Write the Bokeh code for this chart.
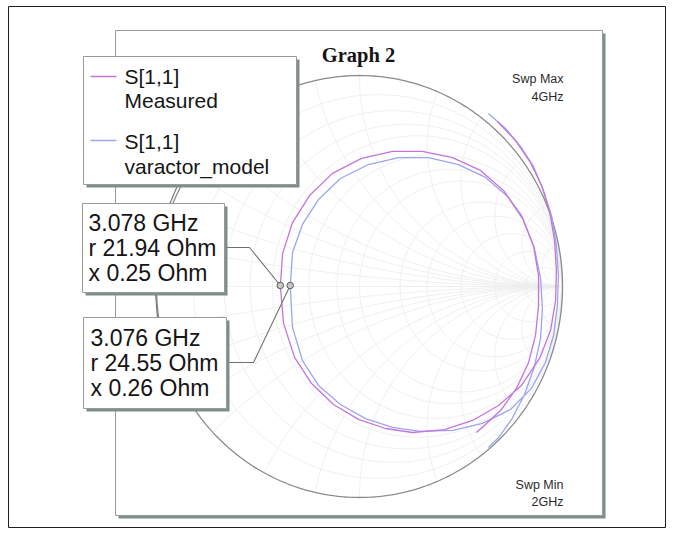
import numpy as np
from bokeh.plotting import figure
from bokeh.models import Range1d, Label
from bokeh.embed import file_html
from bokeh.resources import INLINE

# ---------------- data (reflection coefficient) ----------------
meas_re = [0.680, 0.768, 0.842, 0.897, 0.936, 0.961, 0.970, 0.966, 0.941, 0.887, 0.798,
           0.685, 0.557, 0.419, 0.261, 0.128, -0.005, -0.128, -0.236, -0.320, -0.374,
           -0.390, -0.379, -0.330, -0.246, -0.133, 0.010, 0.163, 0.310, 0.458, 0.596,
           0.709, 0.798, 0.857, 0.882, 0.882, 0.867, 0.833, 0.773, 0.695, 0.626, 0.576]
meas_im = [0.782, 0.692, 0.588, 0.479, 0.360, 0.218, 0.076, -0.066, -0.209, -0.341, -0.469,
           -0.564, -0.635, -0.678, -0.692, -0.673, -0.630, -0.559, -0.460, -0.336, -0.175,
           0.000, 0.156, 0.303, 0.431, 0.536, 0.607, 0.640, 0.640, 0.611, 0.550,
           0.455, 0.336, 0.194, 0.052, -0.090, -0.232, -0.360, -0.483, -0.588, -0.649, -0.692]

model_re = [0.635, 0.719, 0.793, 0.857, 0.906, 0.946, 0.970, 0.980, 0.975, 0.956, 0.916,
            0.847, 0.744, 0.606, 0.458, 0.300, 0.163, 0.030, -0.094, -0.202, -0.281,
            -0.330, -0.341, -0.330, -0.281, -0.202, -0.094, 0.044, 0.192, 0.340, 0.488,
            0.621, 0.729, 0.808, 0.862, 0.892, 0.901, 0.892, 0.862, 0.813, 0.749, 0.685, 0.635]
model_im = [0.820, 0.749, 0.664, 0.569, 0.455, 0.336, 0.194, 0.052, -0.090, -0.232, -0.360,
            -0.483, -0.583, -0.649, -0.682, -0.687, -0.668, -0.626, -0.559, -0.469, -0.351,
            -0.194, 0.000, 0.161, 0.294, 0.412, 0.512, 0.578, 0.611, 0.611, 0.578,
            0.517, 0.427, 0.313, 0.180, 0.038, -0.104, -0.246, -0.379, -0.512, -0.630, -0.716, -0.763]

series_names = ["Measured", "varactor_model"]
trace_label = "S[1,1]"
marker_freq = ["3.078 GHz", "3.076 GHz"]
marker_r = [21.94, 24.55]
marker_x = [0.25, 0.26]
z0 = 50.0
r_grid = [0.1, 0.2, 0.3, 0.4, 0.6, 0.8, 1.0, 1.5, 2.0, 3.0, 5.0, 10.0]
x_grid = [0.1, 0.2, 0.3, 0.4, 0.6, 0.8, 1.0, 1.5, 2.0, 3.0, 5.0, 10.0]
sweep_max = "4GHz"
sweep_min = "2GHz"
title = "Graph 2"

# ---------------- layout (page pixels -> chart units) ----------------
W, H = 670, 534
CX, CY, RX, RY = 359.0, 286.0, 203.0, 211.0


def X(px):
    return (px - CX) / RX


def Y(py):
    return (CY - py) / RY


MEAS_C = "#c474dc"
MODEL_C = "#9ca6ee"
GRID_C = "#ededed"
BOX_LINE = "#9a9a9a"
SHADOW = "#7f8e87"
TXT = "#151515"
FONT = "Liberation Sans"

p = figure(width=W, height=H, x_range=Range1d(X(0), X(W)), y_range=Range1d(Y(H), Y(0)),
           output_backend="svg", toolbar_location=None, min_border=0)
p.axis.visible = False
p.xgrid.visible = False
p.ygrid.visible = False
p.outline_line_color = None
p.background_fill_color = "white"
p.border_fill_color = "white"

# outer frame of the picture
p.quad(left=[X(8)], right=[X(665)], top=[Y(6)], bottom=[Y(527)], fill_color=None,
       line_color="#202020", line_width=1)


def panel(l, t, r, b, sh=3):
    p.quad(left=[X(l + sh)], right=[X(r + sh)], top=[Y(t + sh)], bottom=[Y(b + sh)],
           fill_color=SHADOW, line_color=None)
    p.quad(left=[X(l)], right=[X(r)], top=[Y(t)], bottom=[Y(b)],
           fill_color="white", line_color=BOX_LINE, line_width=1)


# chart panel
panel(115, 30, 602, 515)

# ---------------- Smith grid ----------------
gx, gy = [], []
t = np.linspace(0, 2 * np.pi, 361)
for r in r_grid:
    c, rad = r / (1 + r), 1 / (1 + r)
    gx.append(list(c + rad * np.cos(t)))
    gy.append(list(rad * np.sin(t)))
for xv in x_grid:
    for s in (1, -1):
        x = s * xv
        cyy, rad = 1 / x, 1 / abs(x)
        a1 = -np.pi / 2 * np.sign(x)
        px_, py_ = (x * x - 1) / (x * x + 1), 2 * x / (x * x + 1)
        a2 = np.arctan2(py_ - cyy, px_ - 1)
        d = (a2 - a1 + np.pi) % (2 * np.pi) - np.pi
        a = np.linspace(a1, a1 + d, 200)
        gx.append(list(1 + rad * np.cos(a)))
        gy.append(list(cyy + rad * np.sin(a)))
gx.append([-1, 1])
gy.append([0, 0])
p.multi_line(xs=gx, ys=gy, line_color=GRID_C, line_width=0.9)

# unit circle
p.line(x=list(np.cos(t)), y=list(np.sin(t)), line_color="#8a8a8a", line_width=1.3)

# ---------------- traces ----------------
p.line(x=model_re, y=model_im, line_color=MODEL_C, line_width=1.3, line_join="round")
p.line(x=meas_re, y=meas_im, line_color=MEAS_C, line_width=1.3, line_join="round")

# ---------------- markers ----------------
gm = [((complex(r, xx) / z0) - 1) / ((complex(r, xx) / z0) + 1) for r, xx in zip(marker_r, marker_x)]

LEAD = "#707070"
p.line(x=[X(224), X(249), gm[0].real], y=[Y(247), Y(247), gm[0].imag], line_color=LEAD, line_width=1.1)
p.line(x=[X(226), X(253), gm[1].real], y=[Y(362), Y(362), gm[1].imag], line_color=LEAD, line_width=1.1)
p.line(x=[X(177), X(169)], y=[Y(185), Y(204)], line_color=LEAD, line_width=1.1)
p.line(x=[X(155), X(157)], y=[Y(292), Y(318)], line_color=LEAD, line_width=1.1)

p.scatter(x=[g.real for g in gm], y=[g.imag for g in gm], size=6.5, marker="circle",
          fill_color="#c8c8c8", line_color="#5a5a5a", line_width=1)

# ---------------- legend box ----------------
panel(83, 56, 296, 184)
p.line(x=[X(90), X(116)], y=[Y(76), Y(76)], line_color=MEAS_C, line_width=1.3)
p.line(x=[X(90), X(116)], y=[Y(140), Y(140)], line_color=MODEL_C, line_width=1.3)
for (ty, txt) in [(76, trace_label), (100, series_names[0]), (141, trace_label), (166, series_names[1])]:
    p.add_layout(Label(x=X(124), y=Y(ty), text=txt, text_font=FONT, text_font_size="21px",
                       text_baseline="middle", text_align="left", text_color=TXT))

# ---------------- marker boxes ----------------
boxes = [(82, 203, 224, 292, 88, 222), (83, 317, 226, 408, 90, 337)]
for i, (l, tp, r, b, tx, ty) in enumerate(boxes):
    panel(l, tp, r, b)
    lines = [marker_freq[i], "r %.2f Ohm" % marker_r[i], "x %.2f Ohm" % marker_x[i]]
    for k, s in enumerate(lines):
        p.add_layout(Label(x=X(tx), y=Y(ty + 25.3 * k), text=s, text_font=FONT, text_font_size="23px",
                           text_baseline="middle", text_align="left", text_color=TXT))

# ---------------- title and sweep labels ----------------
p.add_layout(Label(x=X(358), y=Y(54), text=title, text_font="Liberation Serif", text_font_style="bold",
                   text_font_size="20.5px", text_baseline="middle", text_align="center", text_color=TXT))
for ty, s in [(78, "Swp Max"), (96, sweep_max), (484, "Swp Min"), (501, sweep_min)]:
    p.add_layout(Label(x=X(563), y=Y(ty), text=s, text_font=FONT, text_font_size="12.5px",
                       text_baseline="middle", text_align="right", text_color="#2a2a2a"))

open("out.html", "w").write(file_html(p, INLINE))
